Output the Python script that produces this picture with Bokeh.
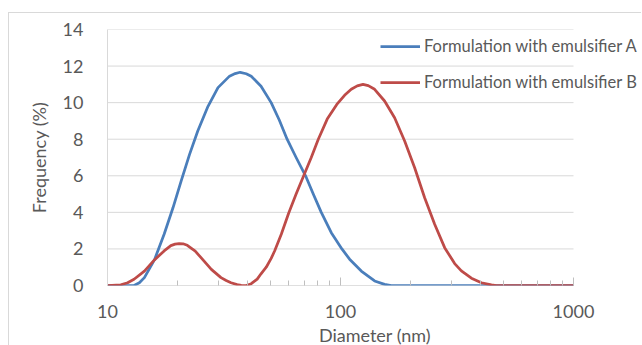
from bokeh.plotting import figure
from bokeh.models import Range1d, FixedTicker, PrintfTickFormatter, Legend, LegendItem
from bokeh.embed import file_html
from bokeh.resources import INLINE

# Formulation with emulsifier A
diam_a = [10, 13.0, 13.7, 14.4, 15.9, 17.5, 19.1, 20.7, 22.5, 24.4, 27.0, 29.8, 33.4, 35.3,
          37.1, 39.4, 41.4, 45.6, 50.4, 54.6, 59.0, 64.5, 70.8, 76.4, 82.7, 91.3, 101.4,
          109.4, 122.8, 140.1, 154.6, 165.2, 200, 300, 458, 1000]
freq_a = [0, 0, 0.15, 0.43, 1.4, 2.80, 4.25, 5.71, 7.17, 8.45, 9.80, 10.82, 11.45, 11.59,
          11.66, 11.58, 11.44, 10.90, 10.0, 9.05, 8.0, 7.0, 6.0, 5.0, 4.0, 2.89, 2.0,
          1.44, 0.79, 0.25, 0.06, 0, 0, 0, 0, 0]

# Formulation with emulsifier B
diam_b = [10, 11.4, 12.2, 13.0, 14.4, 15.9, 17.5, 18.7, 19.5, 20.3, 21.1, 22.0, 23.8, 25.2,
          27.9, 30.7, 32.3, 33.9, 36.0, 37.5, 39.4, 41.4, 43.9, 45.6, 48.0, 50.4, 52.2,
          55.7, 59.9, 64.5, 69.5, 74.9, 80.3, 87.7, 96.4, 104.1, 111.2, 118.0, 124.9,
          131.6, 140.1, 154.6, 170.7, 188.5, 208.1, 229.7, 253.6, 279.9, 309.0, 330.2,
          364.6, 402.5, 444.4, 466.9, 1000]
freq_b = [0, 0.04, 0.15, 0.34, 0.79, 1.4, 1.89, 2.18, 2.26, 2.29, 2.28, 2.2, 1.88, 1.52,
          0.88, 0.43, 0.27, 0.15, 0.05, 0.01, 0, 0.1, 0.35, 0.64, 1.0, 1.48, 1.9,
          2.8, 3.95, 5.0, 6.0, 7.0, 8.0, 9.1, 9.9, 10.4, 10.73, 10.92, 11.0,
          10.93, 10.73, 10.09, 9.17, 7.9, 6.44, 4.8, 3.35, 2.07, 1.2, 0.8,
          0.4, 0.15, 0.03, 0, 0]

x_major = [10, 100, 1000]
x_minor = [20, 30, 40, 50, 60, 70, 80, 90, 200, 300, 400, 500, 600, 700, 800, 900]
y_ticks = [0, 2, 4, 6, 8, 10, 12, 14]
labels = ["Formulation with emulsifier A", "Formulation with emulsifier B"]

FONT = "Lato"
TXT = "#595959"

# layout: plot area of the reference spans 10..1000 over 466 px; the frame is
# extended to the canvas edge so the legend (which overhangs) is not clipped
W, H = 633, 337
LEFT, TOP, BOTTOM = 98, 16, 65
plot_w = 466
frame_w = W - LEFT
x_end = 10 ** (1 + 2 * frame_w / plot_w)

p = figure(width=W, height=H, x_axis_type="log",
           x_range=Range1d(10, x_end), y_range=Range1d(0, 14),
           output_backend="svg", toolbar_location=None,
           min_border_left=LEFT, min_border_right=0, min_border_top=TOP,
           min_border_bottom=BOTTOM)
p.styles = {"margin-top": "12px", "margin-left": "8px", "margin-bottom": "-8px",
            "border-top": "1px solid #d9d9d9", "border-left": "1px solid #d9d9d9"}
p.outline_line_color = None
p.background_fill_color = "white"
p.border_fill_color = "white"

# x axis
xa = p.xaxis[0]
xa.ticker = FixedTicker(ticks=x_major, minor_ticks=x_minor)
xa.formatter = PrintfTickFormatter(format="%d")
xa.axis_line_color = None
xa.major_tick_line_color = "#bfbfbf"
xa.minor_tick_line_color = "#bfbfbf"
xa.major_tick_in = 8
xa.major_tick_out = 0
xa.minor_tick_in = 5
xa.minor_tick_out = 0
xa.major_label_standoff = 19
xa.major_label_text_font = FONT
xa.major_label_text_font_size = "18px"
xa.major_label_text_color = TXT
xa.axis_label = "Diameter (nm)"
xa.axis_label_text_font = FONT
xa.axis_label_text_font_size = "18px"
xa.axis_label_text_font_style = "normal"
xa.axis_label_text_color = TXT
xa.axis_label_standoff = 3

# y axis
ya = p.yaxis[0]
ya.ticker = FixedTicker(ticks=y_ticks)
ya.axis_line_color = "#d9d9d9"
ya.major_tick_line_color = None
ya.minor_tick_line_color = None
ya.major_label_standoff = 18
ya.major_label_text_font = FONT
ya.major_label_text_font_size = "18px"
ya.major_label_text_color = TXT
ya.axis_label = "Frequency (%)"
ya.axis_label_text_font = FONT
ya.axis_label_text_font_size = "18px"
ya.axis_label_text_font_style = "normal"
ya.axis_label_text_color = TXT
ya.axis_label_standoff = 10

p.xgrid.visible = False
p.ygrid.visible = False

# horizontal gridlines limited to the 10..1000 plot area, zero line as axis line
grid_y = y_ticks[1:]
p.segment(x0=[x_major[0]] * len(grid_y), x1=[x_major[-1]] * len(grid_y),
          y0=grid_y, y1=grid_y, line_color="#d9d9d9", line_width=1)
p.segment(x0=[x_major[0]], x1=[x_major[-1]], y0=[y_ticks[0]], y1=[y_ticks[0]],
          line_color="#bfbfbf", line_width=1)

ra = p.line(diam_a, freq_a, line_color="#4a7ebb", line_width=2.75, line_join="round")
rb = p.line(diam_b, freq_b, line_color="#be4b48", line_width=2.75, line_join="round")

legend = Legend(items=[LegendItem(label=labels[0], renderers=[ra]),
                       LegendItem(label=labels[1], renderers=[rb])],
                location=(273, 193), orientation="vertical")
legend.glyph_width = 40
legend.glyph_height = 20
legend.label_height = 20
legend.spacing = 16
legend.padding = 0
legend.margin = 0
legend.label_standoff = 4
legend.border_line_color = None
legend.background_fill_alpha = 0
legend.label_text_font = FONT
legend.label_text_font_size = "16.5px"
legend.label_text_color = TXT
p.add_layout(legend, "center")

open("out.html", "w").write(file_html(p, INLINE))
